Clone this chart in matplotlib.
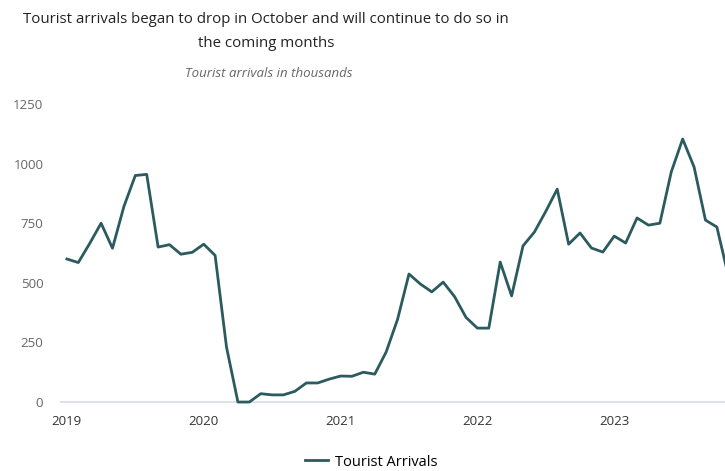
import matplotlib
matplotlib.use("Agg")
import matplotlib.pyplot as plt

# Monthly tourist arrivals (thousands), Jan 2019 .. Nov 2023
years = ["2019", "2020", "2021", "2022", "2023"]
arrivals = [
    600, 585, 665, 750, 645, 820, 950, 955, 650, 660, 620, 628,   # 2019
    662, 615, 230, 0, 0, 35, 30, 30, 45, 80, 80, 96,               # 2020
    109, 108, 125, 117, 210, 347, 537, 495, 462, 503, 442, 355,   # 2021
    310, 310, 587, 445, 655, 713, 800, 893, 662, 709, 646, 629,   # 2022
    696, 667, 772, 742, 750, 965, 1103, 986, 763, 734, 530,       # 2023
]
months = list(range(len(arrivals)))
year_ticks = [12 * i for i in range(len(years))]

plt.rcParams["font.family"] = ["Open Sans", "DejaVu Sans"]

fig = plt.figure(figsize=(7.25, 4.71), dpi=100)
ax = fig.add_axes([0.0828, 0.1363, 0.917, 0.653])

ax.plot(months, arrivals, color="#2b5b5f", linewidth=2.0, label="Tourist Arrivals")

ax.set_xlim(-0.6, 57.7)
ax.set_ylim(-20, 1270)
ax.set_yticks([0, 250, 500, 750, 1000, 1250])
ax.set_xticks(year_ticks)
ax.set_xticklabels(years)
ax.axhline(0, color="#d5dde3", linewidth=1.2, zorder=0)

for s in ax.spines.values():
    s.set_visible(False)
ax.tick_params(axis="y", length=0, labelsize=9.5, labelcolor="#666666", pad=12)
ax.tick_params(axis="x", length=0, labelsize=9.5, labelcolor="#333333", pad=6)

fig.text(0.367, 0.975, "Tourist arrivals began to drop in October and will continue to do so in\nthe coming months",
         ha="center", va="top", fontsize=10.8, color="#222222", linespacing=1.8)
fig.text(0.371, 0.843, "Tourist arrivals in thousands", ha="center", va="center",
         fontsize=9.5, style="italic", color="#666666")

fig.legend(loc="center", bbox_to_anchor=(0.512, 0.019), frameon=False, fontsize=10.5,
           handlelength=1.6, handletextpad=0.5)

fig.savefig("out.png", dpi=100)
